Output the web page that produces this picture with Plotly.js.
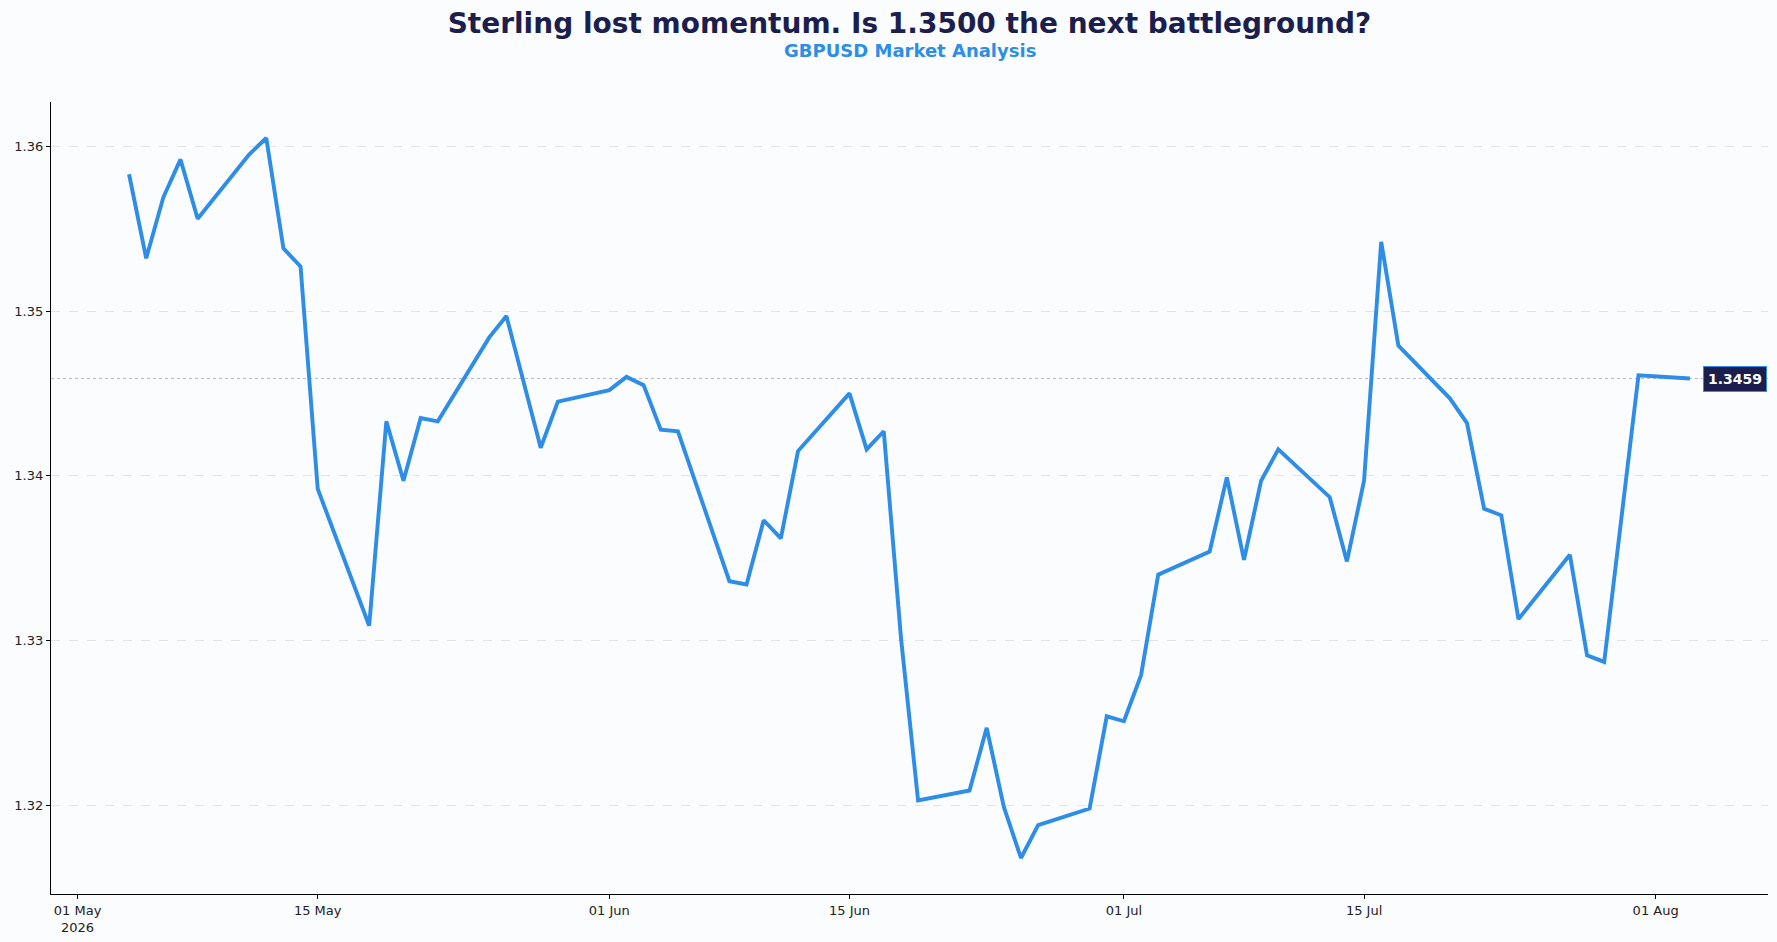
<!DOCTYPE html>
<html>
<head>
<meta charset="utf-8">
<script src="https://cdn.plot.ly/plotly-3.0.1.min.js"></script>
<style>
  html, body { margin: 0; padding: 0; background: #fafcfe; }
  #chart { width: 1777px; height: 942px; }
</style>
</head>
<body>
<div id="chart"></div>
<script>
// GBPUSD daily closes (business days)
const dates = [
  "2026-05-04", "2026-05-05", "2026-05-06", "2026-05-07", "2026-05-08",
  "2026-05-11", "2026-05-12", "2026-05-13", "2026-05-14", "2026-05-15",
  "2026-05-18", "2026-05-19", "2026-05-20", "2026-05-21", "2026-05-22",
  "2026-05-25", "2026-05-26", "2026-05-28", "2026-05-29",
  "2026-06-01", "2026-06-02", "2026-06-03", "2026-06-04", "2026-06-05",
  "2026-06-08", "2026-06-09", "2026-06-10", "2026-06-11", "2026-06-12",
  "2026-06-15", "2026-06-16", "2026-06-17", "2026-06-18", "2026-06-19",
  "2026-06-22", "2026-06-23", "2026-06-24", "2026-06-25", "2026-06-26",
  "2026-06-29", "2026-06-30", "2026-07-01", "2026-07-02", "2026-07-03",
  "2026-07-06", "2026-07-07", "2026-07-08", "2026-07-09", "2026-07-10",
  "2026-07-13", "2026-07-14", "2026-07-15", "2026-07-16", "2026-07-17",
  "2026-07-20", "2026-07-21", "2026-07-22", "2026-07-23", "2026-07-24",
  "2026-07-27", "2026-07-28", "2026-07-29", "2026-07-31",
  "2026-08-03",
];

const closes = [
  1.3583, 1.3532, 1.3569, 1.3592, 1.3556,
  1.3595, 1.3605, 1.3538, 1.3527, 1.3392,
  1.3309, 1.3433, 1.3397, 1.3435, 1.3433,
  1.3484, 1.3497, 1.3417, 1.3445,
  1.3452, 1.3460, 1.3455, 1.3428, 1.3427,
  1.3336, 1.3334, 1.3373, 1.3362, 1.3415,
  1.3450, 1.3416, 1.3427, 1.3302, 1.3203,
  1.3209, 1.3247, 1.3199, 1.3168, 1.3188,
  1.3198, 1.3254, 1.3251, 1.3279, 1.3340,
  1.3354, 1.3399, 1.3349, 1.3397, 1.3416,
  1.3387, 1.3348, 1.3397, 1.3542, 1.3479,
  1.3447, 1.3432, 1.3380, 1.3376, 1.3313,
  1.3352, 1.3291, 1.3287, 1.3461,
  1.3459,
];

const xTickVals = ["2026-05-01", "2026-05-15", "2026-06-01", "2026-06-15", "2026-07-01", "2026-07-15", "2026-08-01"];
const xTickText = ["01 May<br>2026", "15 May", "01 Jun", "15 Jun", "01 Jul", "15 Jul", "01 Aug"];

const TITLE = "Sterling lost momentum. Is 1.3500 the next battleground?";
const SUBTITLE = "GBPUSD Market Analysis";

const BLUE = "#2e8de6";
const NAVY = "#1c1f4d";
const FONT = "DejaVu Sans, sans-serif";

// matplotlib-style 5% padding around the data
function paddedRange(lo, hi, frac = 0.05) {
  const pad = (hi - lo) * frac;
  return [lo - pad, hi + pad];
}

const t0 = new Date(dates[0] + "T00:00:00Z").getTime();
const t1 = new Date(dates[dates.length - 1] + "T00:00:00Z").getTime();
const [xa, xb] = paddedRange(t0, t1);
const yRange = paddedRange(Math.min(...closes), Math.max(...closes));

const lastDate = dates[dates.length - 1];
const lastVal = closes[closes.length - 1];

const trace = {
  x: dates,
  y: closes,
  mode: "lines",
  line: { color: BLUE, width: 3.9 },
  hovertemplate: "%{x|%d %b}: %{y:.4f}<extra></extra>",
};

const layout = {
  width: 1777,
  height: 942,
  paper_bgcolor: "#fafcfe",
  plot_bgcolor: "#fafcfe",
  font: { family: FONT, color: "#222", size: 13 },
  margin: { l: 51, r: 9, t: 102, b: 48 },
  showlegend: false,
  title: {
    text: `<b>${TITLE}</b>`,
    font: { family: FONT, size: 28, color: NAVY },
    xref: "paper",
    x: 0.5,
    xanchor: "center",
    yref: "container",
    y: 1 - 23 / 942,
    yanchor: "middle",
  },
  xaxis: {
    type: "date",
    range: [new Date(xa).toISOString(), new Date(xb).toISOString()],
    tickvals: xTickVals,
    ticktext: xTickText,
    tickfont: { size: 13, color: "#222" },
    showgrid: false,
    zeroline: false,
    showline: true,
    linecolor: "#000",
    linewidth: 1.2,
    ticks: "outside",
    ticklen: 4,
    tickcolor: "#000",
  },
  yaxis: {
    range: yRange,
    dtick: 0.01,
    tick0: 1.30,
    tickformat: ".2f",
    tickfont: { size: 13, color: "#222" },
    showgrid: true,
    gridcolor: "#dadee4",
    griddash: "dash",
    gridwidth: 0.8,
    zeroline: false,
    showline: true,
    linecolor: "#000",
    linewidth: 1.2,
    ticks: "outside",
    ticklen: 4,
    tickcolor: "#000",
  },
  shapes: [
    {
      type: "line",
      xref: "paper",
      x0: 0,
      x1: 1,
      y0: lastVal,
      y1: lastVal,
      line: { color: "#b5bac2", width: 1, dash: "dot" },
      layer: "below",
    },
  ],
  annotations: [
    {
      text: `<b>${SUBTITLE}</b>`,
      xref: "paper",
      yref: "paper",
      x: 0.5,
      y: (894 - 51) / 792,
      xanchor: "center",
      yanchor: "middle",
      showarrow: false,
      font: { family: FONT, size: 18, color: BLUE },
    },
    {
      x: lastDate,
      y: lastVal,
      text: `<b>${lastVal.toFixed(4)}</b>`,
      showarrow: false,
      xanchor: "left",
      yanchor: "middle",
      xshift: 13,
      bgcolor: NAVY,
      bordercolor: BLUE,
      borderwidth: 1,
      borderpad: 4,
      font: { family: FONT, size: 14, color: "#ffffff" },
    },
  ],
};

Plotly.newPlot("chart", [trace], layout, { displayModeBar: false, staticPlot: true });
</script>
</body>
</html>
